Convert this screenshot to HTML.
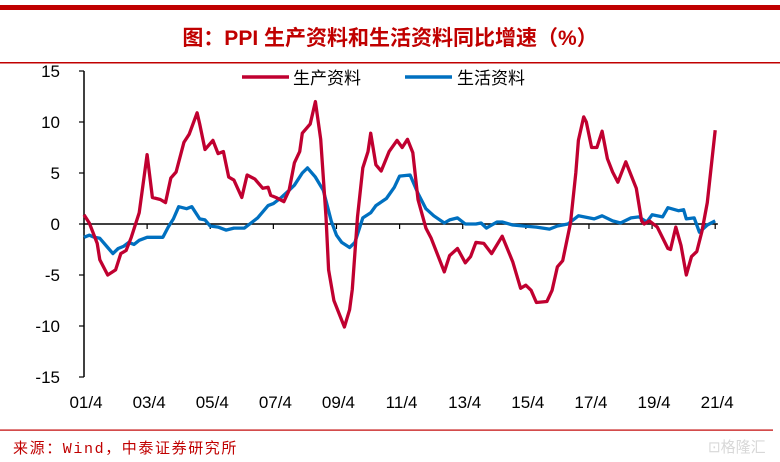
<!DOCTYPE html>
<html><head><meta charset="utf-8">
<style>
body{margin:0;background:#fff;}
#wrap{position:relative;width:780px;height:462px;overflow:hidden;background:#fff;font-family:"Liberation Sans","Noto Sans CJK SC",sans-serif;}
</style></head>
<body>
<div id="wrap">
<svg id="svg" width="780" height="462" xmlns="http://www.w3.org/2000/svg">
  <rect x="0" y="5" width="780" height="5" fill="#c00000"/>
  <text x="390" y="45" text-anchor="middle" font-size="21" font-weight="bold" fill="#c00000" font-family="Liberation Sans,Noto Sans CJK SC,sans-serif">图：PPI 生产资料和生活资料同比增速（%）</text>
  <rect x="0" y="62" width="780" height="1.5" fill="#c00000"/>
  <g id="axes"></g>
  <g id="series"></g>
  <g>
    <g>
      <line x1="242" y1="77" x2="289" y2="77" stroke="#c00030" stroke-width="3.5"/>
      <text x="293" y="84" font-size="17" fill="#000" font-family="Liberation Sans,Noto Sans CJK SC,sans-serif">生产资料</text>
    </g>
    <g>
      <line x1="405" y1="77" x2="452" y2="77" stroke="#0070c0" stroke-width="3.5"/>
      <text x="457" y="84" font-size="17" fill="#000" font-family="Liberation Sans,Noto Sans CJK SC,sans-serif">生活资料</text>
    </g>
  </g>
  <rect x="0" y="429.5" width="773" height="1.2" fill="#c00000"/>
  <text x="13" y="453" font-size="15" letter-spacing="1.6" fill="#c00000" font-family="Liberation Mono,Noto Sans CJK SC,monospace">来源：Wind，中泰证券研究所</text>
  <text x="708" y="452" font-size="15" fill="#d8d8d8" font-family="Liberation Sans,Noto Sans CJK SC,sans-serif">⊡格隆汇</text>
</svg>
</div>
<script>
const yTicks=[15,10,5,0,-5,-10,-15];
const xLabels=["01/4","03/4","05/4","07/4","09/4","11/4","13/4","15/4","17/4","19/4","21/4"];
const prodMonths=[0,2,5,6,9,12,14,16,18,21,24,26,29,31,33,35,38,40,43,44,46,49,51,53,55,57,60,62,65,68,70,71,73,76,78,80,82,83,86,88,90,92,93,95,99,101,102,104,106,108,109,111,113,116,119,121,123,125,127,130,132,137,139,142,145,147,149,152,155,159,163,166,168,170,172,176,178,180,182,185,187,188,190,191,193,195,197,199,201,203,206,208,210,212,213,215,218,222,223,225,227,229,231,233,235,237,240];
const prodValues=[0.9,0.1,-1.9,-3.5,-5,-4.5,-2.9,-2.6,-1.3,1.1,6.8,2.6,2.4,2.1,4.5,5.1,8,8.8,10.9,9.8,7.3,8.2,6.9,7.1,4.6,4.3,2.6,4.8,4.4,3.5,3.6,2.8,2.6,2.2,3.3,6,7.1,8.9,9.8,12,8.3,0.7,-4.5,-7.5,-10.1,-8.4,-6.4,0.7,5.5,7.1,8.9,5.8,5.2,7.1,8.2,7.5,8.3,7,2.4,-0.4,-1.4,-4.7,-3.1,-2.4,-3.8,-3.2,-1.8,-1.9,-2.9,-1.2,-3.7,-6.3,-6,-6.5,-7.7,-7.6,-6.5,-4.2,-3.6,0.1,5,8.2,10.5,10,7.5,7.5,9.1,6.4,5.1,4.1,6.1,4.8,3.5,0.3,0,0.3,-0.3,-2.4,-2.5,-0.3,-2.1,-5,-3.2,-2.7,-0.7,2.1,9.2];
const consMonths=[0,2,4,6,9,11,13,15,17,19,21,24,27,30,32,34,36,39,41,44,46,48,51,54,57,61,63,66,70,72,75,78,80,83,85,88,91,94,96,98,101,103,106,109,111,115,118,120,124,127,130,133,137,139,142,145,149,151,153,157,159,163,167,172,177,180,184,188,194,197,201,204,208,211,214,216,220,222,226,228,229,232,234,237,240];
const consValues=[-1.3,-1.1,-1.3,-1.4,-2.3,-2.9,-2.4,-2.2,-1.8,-2,-1.6,-1.3,-1.3,-1.3,-0.3,0.5,1.7,1.5,1.7,0.5,0.4,-0.2,-0.3,-0.6,-0.4,-0.4,0,0.6,1.8,2,2.6,3.3,3.8,5,5.5,4.6,3.3,0.3,-1.1,-1.8,-2.3,-1.8,0.6,1.1,1.8,2.5,3.6,4.7,4.8,3,1.5,0.8,0.1,0.4,0.6,0,0,0.1,-0.4,0.2,0.2,-0.1,-0.2,-0.3,-0.5,-0.2,0,0.8,0.5,0.8,0.3,0.1,0.6,0.7,0.2,0.9,0.7,1.6,1.3,1.4,0.5,0.6,-0.8,-0.1,0.3];

const NS="http://www.w3.org/2000/svg";
const X0=84, PX_PER_MONTH=2.63, Y0=224, PX_PER_UNIT=10.2;
function xScale(m){return X0+m*PX_PER_MONTH;}
function yScale(v){return Y0-v*PX_PER_UNIT;}
const axes=document.getElementById('axes');
const series=document.getElementById('series');
function mk(tag,attrs,parent){const e=document.createElementNS(NS,tag);for(const k in attrs)e.setAttribute(k,attrs[k]);parent.appendChild(e);return e;}

const yAxis=mk('line',{x1:X0,y1:yScale(15),x2:X0,y2:yScale(-15),stroke:'#000','stroke-width':1.5},axes);


yTicks.forEach(t=>{
  const tk=mk('line',{x1:X0-5,y1:yScale(t),x2:X0,y2:yScale(t),stroke:'#000','stroke-width':1.2},axes);
  
  
  const lb=mk('text',{x:60,y:yScale(t)+6,'text-anchor':'end','font-size':17,fill:'#000'},axes);
  lb.textContent=String(t);
  
  
});
const xAxis=mk('line',{x1:X0,y1:Y0,x2:xScale(241),y2:Y0,stroke:'#000','stroke-width':1.5},axes);


xLabels.forEach((l,i)=>{
  const m=i*24;
  const tk=mk('line',{x1:xScale(m),y1:Y0,x2:xScale(m),y2:Y0+5,stroke:'#000','stroke-width':1.2},axes);
  
  
  const lb=mk('text',{x:xScale(m)+2,y:408,'text-anchor':'middle','font-size':17,fill:'#000'},axes);
  lb.textContent=l;
  
  
});
function path(ms,vs){return ms.map((m,i)=>(i?'L':'M')+xScale(m).toFixed(1)+','+yScale(vs[i]).toFixed(1)).join('');}
const pc=mk('path',{d:path(consMonths,consValues),fill:'none',stroke:'#0070c0','stroke-width':3.3,'stroke-linejoin':'round'},series);


const pp=mk('path',{d:path(prodMonths,prodValues),fill:'none',stroke:'#c00030','stroke-width':3.3,'stroke-linejoin':'round'},series);


</script>
</body></html>
